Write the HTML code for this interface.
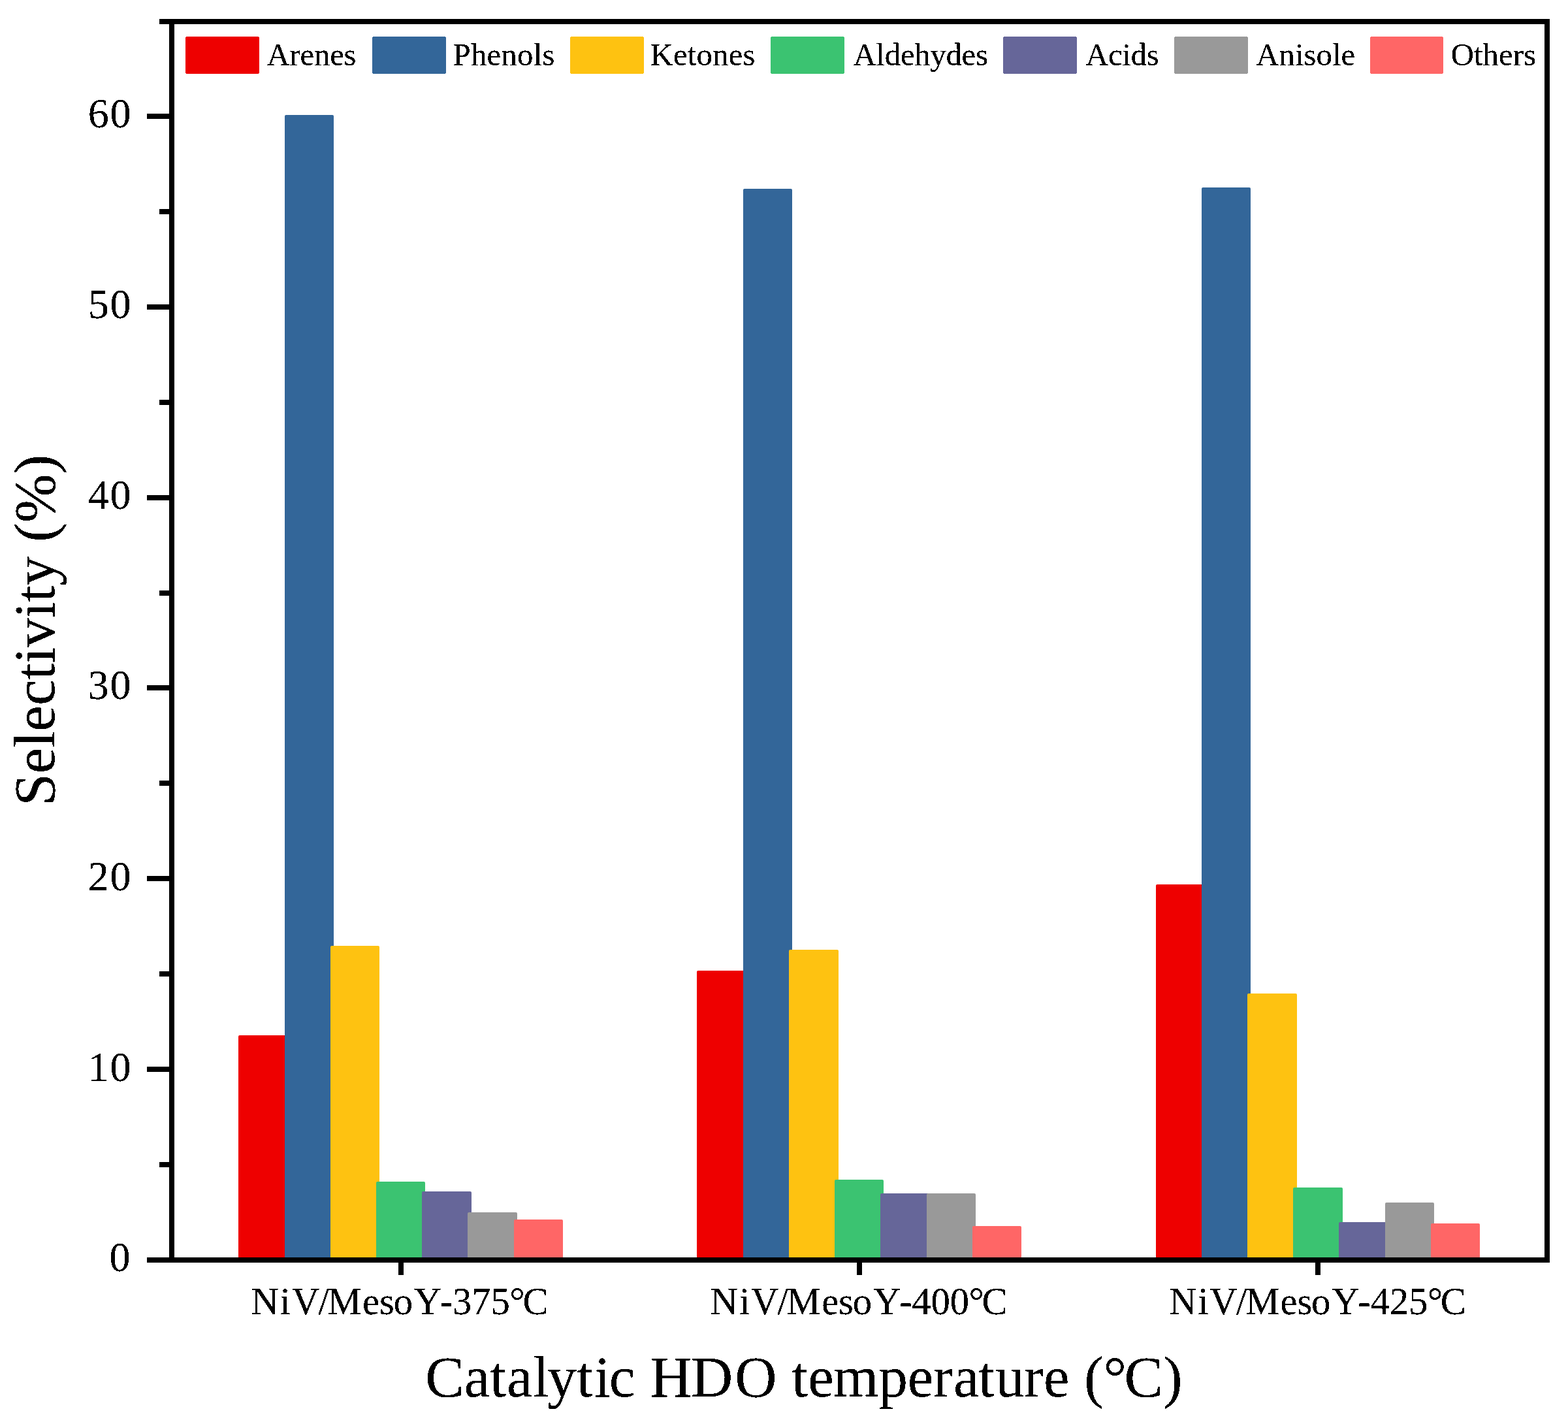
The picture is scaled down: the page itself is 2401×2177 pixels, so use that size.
<!DOCTYPE html>
<html lang="en"><head><meta charset="utf-8">
<title>Selectivity vs catalytic HDO temperature</title>
<style>
html,body{margin:0;padding:0;background:#fff;}
body{width:2401px;height:2177px;}
svg{display:block;}
text{font-family:"Liberation Serif", "Times New Roman", Times, serif;fill:#000;font-kerning:none;font-variant-ligatures:none;}
.lg{font-size:48.8px;}
.yt{font-size:64px;}
.xt{font-size:58.7px;}
.ti{font-size:89px;}
#ytitle{letter-spacing:0.1px;}
</style></head><body>
<svg width="2401" height="2177" viewBox="0 0 2401 2177">
<rect x="0" y="0" width="2401" height="2177" fill="#ffffff"/>
<defs><filter id="bin" filterUnits="userSpaceOnUse" x="0" y="0" width="2401" height="2177" color-interpolation-filters="sRGB"><feComponentTransfer><feFuncA type="discrete" tableValues="0 0 1 1 1"/></feComponentTransfer></filter></defs>
<g id="bars">
<path d="M365 1929 V1587 Q365 1585 367 1585 H439 Q441 1585 441 1587 V1929 Z" fill="#EE0000"/>
<path d="M436 1929 V178 Q436 176 438 176 H509 Q511 176 511 178 V1929 Z" fill="#336699"/>
<path d="M506 1929 V1450 Q506 1448 508 1448 H579 Q581 1448 581 1450 V1929 Z" fill="#FEC211"/>
<path d="M576 1929 V1811 Q576 1809 578 1809 H649 Q651 1809 651 1811 V1929 Z" fill="#3BC371"/>
<path d="M646 1929 V1826 Q646 1824 648 1824 H720 Q722 1824 722 1826 V1929 Z" fill="#666699"/>
<path d="M716 1929 V1858 Q716 1856 718 1856 H790 Q792 1856 792 1858 V1929 Z" fill="#999999"/>
<path d="M787 1929 V1869 Q787 1867 789 1867 H860 Q862 1867 862 1869 V1929 Z" fill="#FF6666"/>
<path d="M1067 1929 V1488 Q1067 1486 1069 1486 H1141 Q1143 1486 1143 1488 V1929 Z" fill="#EE0000"/>
<path d="M1138 1929 V291 Q1138 289 1140 289 H1211 Q1213 289 1213 291 V1929 Z" fill="#336699"/>
<path d="M1208 1929 V1456 Q1208 1454 1210 1454 H1282 Q1284 1454 1284 1456 V1929 Z" fill="#FEC211"/>
<path d="M1278 1929 V1808 Q1278 1806 1280 1806 H1351 Q1353 1806 1353 1808 V1929 Z" fill="#3BC371"/>
<path d="M1348 1929 V1829 Q1348 1827 1350 1827 H1422 Q1424 1827 1424 1829 V1929 Z" fill="#666699"/>
<path d="M1419 1929 V1829 Q1419 1827 1421 1827 H1492 Q1494 1827 1494 1829 V1929 Z" fill="#999999"/>
<path d="M1489 1929 V1879 Q1489 1877 1491 1877 H1562 Q1564 1877 1564 1879 V1929 Z" fill="#FF6666"/>
<path d="M1770 1929 V1356 Q1770 1354 1772 1354 H1843 Q1845 1354 1845 1356 V1929 Z" fill="#EE0000"/>
<path d="M1840 1929 V289 Q1840 287 1842 287 H1913 Q1915 287 1915 289 V1929 Z" fill="#336699"/>
<path d="M1910 1929 V1523 Q1910 1521 1912 1521 H1984 Q1986 1521 1986 1523 V1929 Z" fill="#FEC211"/>
<path d="M1980 1929 V1820 Q1980 1818 1982 1818 H2054 Q2056 1818 2056 1820 V1929 Z" fill="#3BC371"/>
<path d="M2050 1929 V1873 Q2050 1871 2052 1871 H2124 Q2126 1871 2126 1873 V1929 Z" fill="#666699"/>
<path d="M2121 1929 V1843 Q2121 1841 2123 1841 H2194 Q2196 1841 2196 1843 V1929 Z" fill="#999999"/>
<path d="M2191 1929 V1875 Q2191 1873 2193 1873 H2264 Q2266 1873 2266 1875 V1929 Z" fill="#FF6666"/>
</g>
<g id="axes" fill="#000" shape-rendering="crispEdges">
<rect x="244" y="29" width="2129" height="8"/>
<rect x="225" y="1925" width="2148" height="8"/>
<rect x="259" y="29" width="8" height="1904"/>
<rect x="2365" y="29" width="8" height="1904"/>
<rect x="244" y="1779" width="19" height="8"/>
<rect x="225" y="1633" width="38" height="8"/>
<rect x="244" y="1487" width="19" height="8"/>
<rect x="225" y="1341" width="38" height="8"/>
<rect x="244" y="1195" width="19" height="8"/>
<rect x="225" y="1049" width="38" height="8"/>
<rect x="244" y="904" width="19" height="8"/>
<rect x="225" y="758" width="38" height="8"/>
<rect x="244" y="612" width="19" height="8"/>
<rect x="225" y="466" width="38" height="8"/>
<rect x="244" y="320" width="19" height="8"/>
<rect x="225" y="174" width="38" height="8"/>
<rect x="610" y="1929" width="8" height="23"/>
<rect x="1312" y="1929" width="8" height="23"/>
<rect x="2014" y="1929" width="8" height="23"/>
</g>
<g id="labels" filter="url(#bin)">
<g id="yticks">
<text class="yt" x="167.6" y="1945.6">0</text>
<text class="yt" x="134.8 168.5" y="1654.6">10</text>
<text class="yt" x="134.8 168.5" y="1362.6">20</text>
<text class="yt" x="134.8 168.5" y="1069.6">30</text>
<text class="yt" x="134.8 168.5" y="778.6">40</text>
<text class="yt" x="134.8 168.5" y="486.6">50</text>
<text class="yt" x="134.8 168.5" y="194.6">60</text>
</g>
<g id="xticks">
<text class="xt" x="384.5 428.8 446.9 487.5 501.5 555.1 581.0 602.7 633.8 673.8 693.1 722.3 751.6 780.3 800.4" y="2012">NiV/MesoY-375°C</text>
<text class="xt" x="1087.6 1131.9 1150.0 1190.6 1204.6 1258.2 1284.1 1305.8 1336.9 1376.9 1396.2 1425.4 1454.7 1483.4 1503.5" y="2012">NiV/MesoY-400°C</text>
<text class="xt" x="1789.9 1834.2 1852.3 1892.9 1906.9 1960.5 1986.4 2008.1 2039.2 2079.2 2098.5 2127.7 2157.0 2185.7 2205.8" y="2012">NiV/MesoY-425°C</text>
</g>
<g id="legend">
<rect x="284" y="56" width="113" height="57" rx="2" ry="2" fill="#EE0000"/>
<text class="lg" x="408.4" y="100.0" letter-spacing="-0.2">Arenes</text>
<rect x="570" y="56" width="113" height="57" rx="2" ry="2" fill="#336699"/>
<text class="lg" x="693.6" y="100.0" letter-spacing="0.22">Phenols</text>
<rect x="873" y="56" width="113" height="57" rx="2" ry="2" fill="#FEC211"/>
<text class="lg" x="995.5" y="100.0" letter-spacing="0.2">Ketones</text>
<rect x="1180" y="56" width="113" height="57" rx="2" ry="2" fill="#3BC371"/>
<text class="lg" x="1306.6" y="100.0" letter-spacing="-0.29">Aldehydes</text>
<rect x="1536" y="56" width="113" height="57" rx="2" ry="2" fill="#666699"/>
<text class="lg" x="1662.2" y="100.0" letter-spacing="-0.35">Acids</text>
<rect x="1798" y="56" width="113" height="57" rx="2" ry="2" fill="#999999"/>
<text class="lg" x="1923.3" y="100.0">Anisole</text>
<rect x="2098" y="56" width="112" height="57" rx="2" ry="2" fill="#FF6666"/>
<text class="lg" x="2221.8" y="100.0">Others</text>
</g>
<text class="ti" id="xtitle" x="651.2 710.8 750.3 775.9 816.2 838.2 882.9 910.3 932.7 962.7 995.4 1058.0 1125.2 1155.2 1212.2 1237.3 1276.1 1345.6 1389.7 1429.1 1460.0 1498.1 1524.2 1568.1 1597.9 1627.9 1660.2 1689.6 1721.5 1780.9" y="2138.3">Catalytic HDO temperature (°C)</text>
<text class="ti" id="ytitle" transform="translate(83,1233.6) rotate(-90)" x="0" y="0">Selectivity (%)</text>
</g>
</svg>
</body></html>
